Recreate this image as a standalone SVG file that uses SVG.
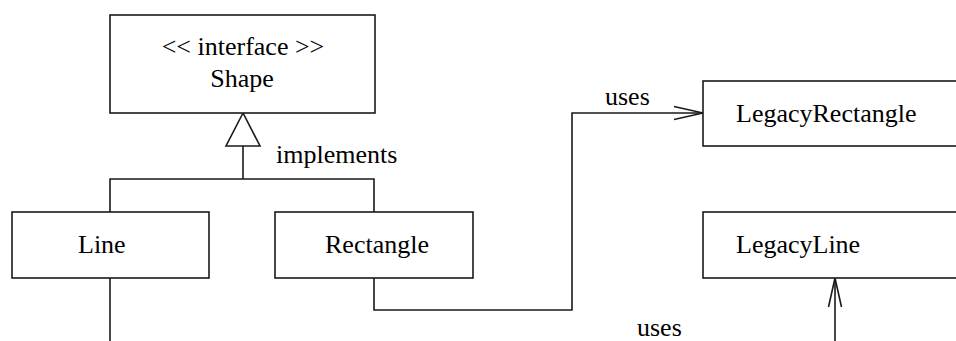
<svg xmlns="http://www.w3.org/2000/svg" width="956" height="341" viewBox="0 0 956 341">
<style>
.box{fill:#fff;stroke:#1a1a1a;stroke-width:1.6}
.ln{fill:none;stroke:#1a1a1a;stroke-width:1.6}
text{font-family:"Liberation Serif","Times New Roman",serif;font-size:26px;fill:#000}
</style>
<defs>
<marker id="open" markerWidth="32" markerHeight="16" refX="30" refY="8" orient="auto" markerUnits="userSpaceOnUse">
<path d="M1,1.5 L30,8 L1,14.5" fill="none" stroke="#1a1a1a" stroke-width="1.6"/>
</marker>
</defs>
<rect width="956" height="341" fill="#fff"/>
<g id="connectors">
<polyline class="ln" points="243,146 243,179"/>
<polyline class="ln" points="110,212 110,179 374,179 374,212"/>
<polygon points="243,113 226,146 260,146" fill="#fff" stroke="#1a1a1a" stroke-width="1.6"/>
<text x="276" y="163">implements</text>
<polyline class="ln" points="374,278 374,310 572,310 572,113 703,113" marker-end="url(#open)"/>
<text x="605" y="105">uses</text>
<polyline class="ln" points="110,278 110,341"/>
<polyline class="ln" points="835,341 835,278" marker-end="url(#open)"/>
<text x="637" y="336">uses</text>
</g>
<g id="shape">
<rect class="box" x="110" y="15" width="265" height="98"/>
<text x="243" y="55" text-anchor="middle">&lt;&lt; interface &gt;&gt;</text>
<text x="242" y="87" text-anchor="middle">Shape</text>
</g>
<g id="line">
<rect class="box" x="12" y="212" width="197" height="66"/>
<text x="78" y="253">Line</text>
</g>
<g id="rectangle">
<rect class="box" x="275" y="212" width="198" height="66"/>
<text x="325" y="253">Rectangle</text>
</g>
<g id="legacyrectangle">
<rect class="box" x="703" y="81" width="280" height="65"/>
<text x="736" y="122">LegacyRectangle</text>
</g>
<g id="legacyline">
<rect class="box" x="703" y="212" width="280" height="66"/>
<text x="736" y="253">LegacyLine</text>
</g>
</svg>
